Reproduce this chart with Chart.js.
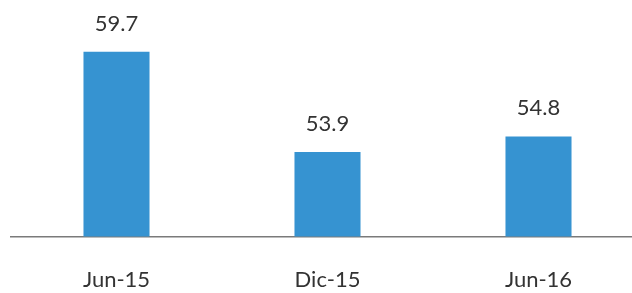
<!DOCTYPE html>
<html>
<head>
<meta charset="utf-8">
<script src="https://cdn.jsdelivr.net/npm/chart.js@4"></script>
<style>
  html, body { margin: 0; padding: 0; background: #fff; overflow: hidden; }
  canvas { display: block; }
</style>
</head>
<body>
<canvas id="barChart" width="644" height="293"></canvas>
<script>
const periods = ['Jun-15', 'Dic-15', 'Jun-16'];
const values = [59.7, 53.9, 54.8];

// draw value labels above bars
const valueLabels = {
    id: 'valueLabels',
    afterDatasetsDraw(chart) {
        const ctx = chart.ctx;
        const meta = chart.getDatasetMeta(0);
        ctx.save();
        ctx.font = '22px Lato';
        ctx.fillStyle = '#333333';
        ctx.textAlign = 'center';
        ctx.textBaseline = 'bottom';
        meta.data.forEach((bar, i) => {
            ctx.fillText(values[i].toFixed(1), bar.x, bar.y - 17);
        });
        ctx.restore();
    }
};

const ctx = document.getElementById('barChart').getContext('2d');
const barChart = new Chart(ctx, {
    type: 'bar',
    data: {
        labels: periods,
        datasets: [{
            data: values,
            backgroundColor: '#3693d1',
            categoryPercentage: 1,
            barPercentage: 0.313
        }]
    },
    options: {
        responsive: false,
        animation: false,
        layout: { padding: { left: 11, top: 0, right: 0, bottom: 0 } },
        plugins: {
            legend: { display: false },
            tooltip: { enabled: false }
        },
        scales: {
            x: {
                grid: { display: false, drawTicks: false },
                border: { display: true, color: '#7a7a7a', width: 1.5 },
                ticks: {
                    color: '#333333',
                    font: { family: 'Lato', size: 22 },
                    padding: 30
                },
                afterFit(scale) {
                    scale.height = 56.5;
                }
            },
            y: {
                display: false,
                min: 49,
                max: 62.7
            }
        }
    },
    plugins: [valueLabels]
});
</script>
</body>
</html>
